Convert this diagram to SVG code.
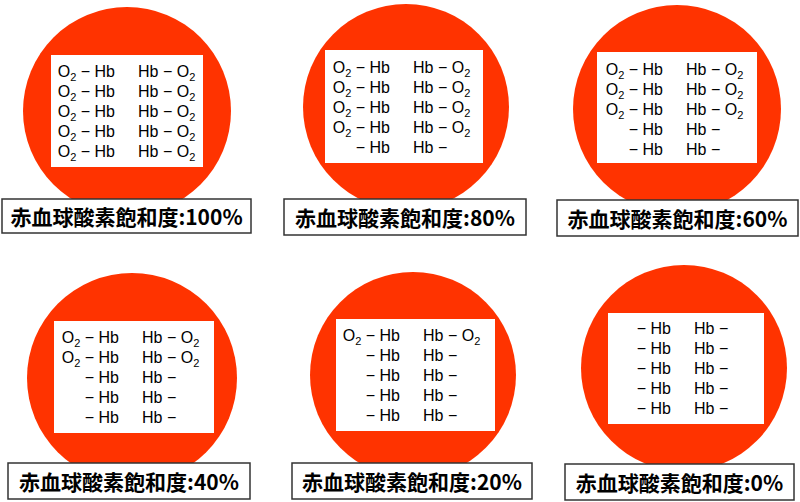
<svg xmlns="http://www.w3.org/2000/svg" width="800" height="502" viewBox="0 0 800 502">
<style>
.cell{fill:#FF3300}
.win{fill:#fff}
.lbl{fill:#fff;stroke:#333;stroke-width:1.5}
.lt{font-family:"Noto Sans CJK JP","Liberation Sans",sans-serif;font-size:21px;font-weight:bold;fill:#000;text-anchor:middle}
.m{font-family:"Liberation Sans",Arial,sans-serif;font-size:16px;fill:#000}
.e{text-anchor:end}
.s{font-size:11px}
</style>
<rect width="800" height="502" fill="#fff"/>
<defs>
<g id="o"><text class="m e" x="56" y="0">O<tspan class="s" dy="4">2</tspan><tspan dy="-4"> − Hb</tspan></text><text class="m" x="79" y="0">Hb − O<tspan class="s" dy="4">2</tspan></text></g>
<g id="d"><text class="m e" x="56" y="0">− Hb</text><text class="m" x="79" y="0">Hb −</text></g>
</defs>
<g id="panel100">
<circle class="cell" cx="127" cy="111" r="104"/>
<rect class="win" x="51" y="55" width="152" height="112"/>
<g transform="translate(59,77)"><use href="#o"/><use href="#o" y="20"/><use href="#o" y="40"/><use href="#o" y="60"/><use href="#o" y="80"/></g>
<rect class="lbl" x="2" y="199" width="249" height="34"/>
<text class="lt" x="126.5" y="225">赤血球酸素飽和度:100%</text>
</g>
<g id="panel80">
<circle class="cell" cx="406" cy="107" r="103"/>
<rect class="win" x="325" y="50" width="158" height="113"/>
<g transform="translate(334,73)"><use href="#o"/><use href="#o" y="20"/><use href="#o" y="40"/><use href="#o" y="60"/><use href="#d" y="80"/></g>
<rect class="lbl" x="284" y="199" width="242" height="36"/>
<text class="lt" x="405" y="226">赤血球酸素飽和度:80%</text>
</g>
<g id="panel60">
<circle class="cell" cx="677" cy="109" r="104"/>
<rect class="win" x="597" y="52" width="160" height="111"/>
<g transform="translate(607,75)"><use href="#o"/><use href="#o" y="20"/><use href="#o" y="40"/><use href="#d" y="60"/><use href="#d" y="80"/></g>
<rect class="lbl" x="557" y="200" width="241" height="36"/>
<text class="lt" x="677.5" y="227">赤血球酸素飽和度:60%</text>
</g>
<g id="panel40">
<circle class="cell" cx="132" cy="378" r="105"/>
<rect class="win" x="54" y="321" width="160" height="112"/>
<g transform="translate(63,343)"><use href="#o"/><use href="#o" y="20"/><use href="#d" y="40"/><use href="#d" y="60"/><use href="#d" y="80"/></g>
<rect class="lbl" x="8" y="463" width="242" height="36"/>
<text class="lt" x="129" y="490">赤血球酸素飽和度:40%</text>
</g>
<g id="panel20">
<circle class="cell" cx="413" cy="375" r="103"/>
<rect class="win" x="336" y="319" width="159" height="112"/>
<g transform="translate(344,341)"><use href="#o"/><use href="#d" y="20"/><use href="#d" y="40"/><use href="#d" y="60"/><use href="#d" y="80"/></g>
<rect class="lbl" x="292" y="463" width="240" height="36"/>
<text class="lt" x="412" y="490">赤血球酸素飽和度:20%</text>
</g>
<g id="panel0">
<circle class="cell" cx="684" cy="368" r="103"/>
<rect class="win" x="608" y="313" width="156" height="111"/>
<g transform="translate(615,334)"><use href="#d"/><use href="#d" y="20"/><use href="#d" y="40"/><use href="#d" y="60"/><use href="#d" y="80"/></g>
<rect class="lbl" x="565" y="464" width="229" height="36"/>
<text class="lt" x="679.5" y="491">赤血球酸素飽和度:0%</text>
</g>
<g id="connectors"/>
</svg>
